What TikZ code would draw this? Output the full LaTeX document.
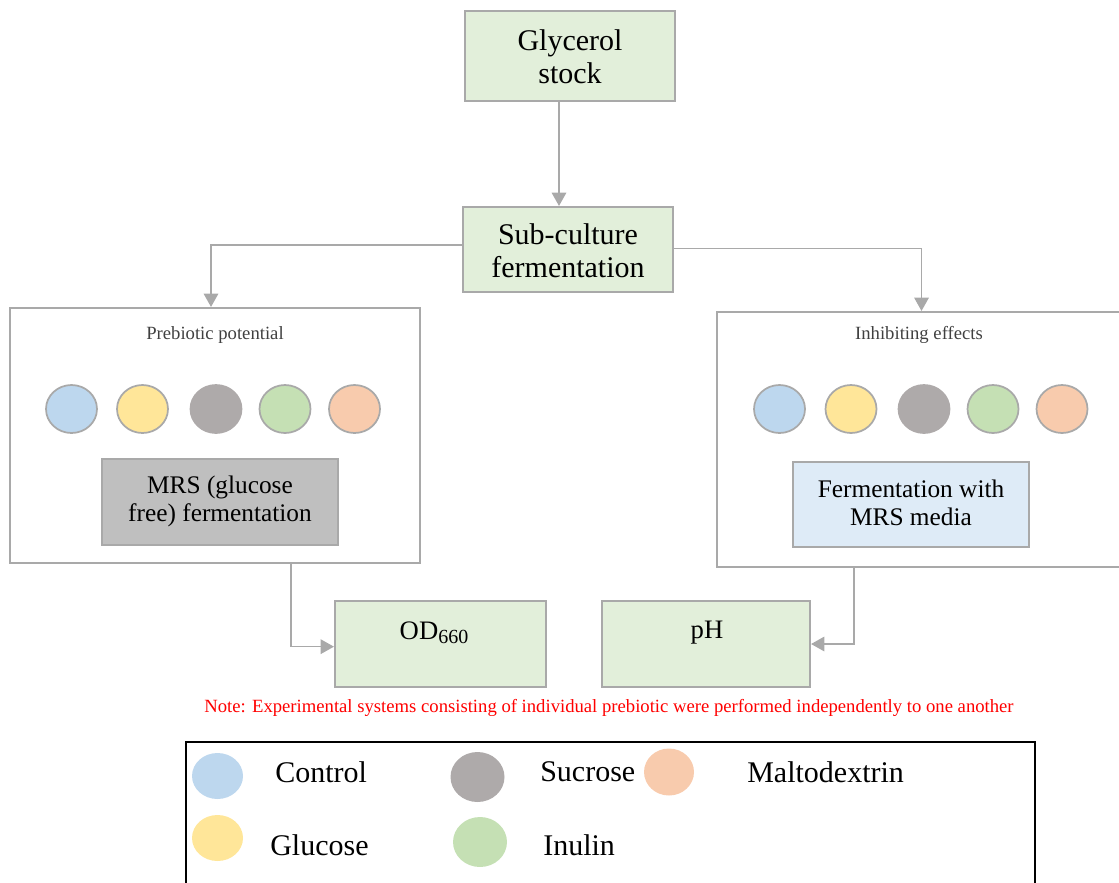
\documentclass[tikz,border=0pt]{standalone}
\usepackage{fontspec}
\setmainfont{Liberation Serif}
\usetikzlibrary{arrows.meta,shapes.geometric,fit}

\definecolor{lineg}{HTML}{A9A9A9}
\definecolor{boxgreen}{HTML}{E2EFDA}
\definecolor{boxgray}{HTML}{BFBFBF}
\definecolor{boxblue}{HTML}{DEEBF7}
\definecolor{cblue}{HTML}{BDD7EE}
\definecolor{cyellow}{HTML}{FFE699}
\definecolor{cgray}{HTML}{AEAAAA}
\definecolor{cgreen}{HTML}{C5E0B4}
\definecolor{corange}{HTML}{F8CBAD}
\definecolor{titlegray}{HTML}{404040}

\begin{document}
\begin{tikzpicture}[x=0.75pt,y=-0.75pt,
  box/.style={draw=lineg, line width=1.6pt, inner sep=0pt},
  greenbox/.style={box, fill=boxgreen},
  bigfont/.style={font=\fontsize{22.5}{24.5}\selectfont, align=center},
  midfont/.style={font=\fontsize{19}{21}\selectfont, align=center},
  paneltitle/.style={font=\fontsize{14}{16}\selectfont, text=titlegray},
  dot/.style={ellipse, draw=lineg, line width=1.3pt, minimum width=38.25pt, minimum height=36pt, inner sep=0pt},
  keydot/.style={ellipse, draw=none, inner sep=0pt},
  keytext/.style={font=\fontsize{22.5}{24}\selectfont, anchor=west, inner sep=0pt},
  conn/.style={draw=lineg, line width=0.9pt, -{Triangle[length=10pt,width=11pt]}}
]
\useasboundingbox (0,0) rectangle (1119,882);
\clip (0,0) rectangle (1119,882);

% main flow boxes
\node[greenbox, fit={(465,11) (675,101)}] (gs) {};
\node[bigfont] (gst) at (570,57) {Glycerol\\stock};
\node[greenbox, fit={(463,207) (673,292)}] (sc) {};
\node[bigfont] (sct) at (568,251) {Sub-culture\\fermentation};

% experiment panels
\node[box, fit={(10,308) (420,563)}] (lp) {};
\node[box, fit={(717,312) (1126,567)}] (rp) {};
\node[paneltitle] (lpt) at (215,335) {Prebiotic potential};
\node[paneltitle] (rpt) at (919,335) {Inhibiting effects};

% prebiotic samples in each panel
\foreach \x/\c/\b [count=\i] in {71.5/cblue/lineg, 142.5/cyellow/lineg, 216/cgray/cgray, 285/cgreen/lineg, 354.5/corange/lineg}
  \node[dot, fill=\c, draw=\b] (ls\i) at (\x,409) {};
\foreach \x/\c/\b [count=\i] in {779.5/cblue/lineg, 851/cyellow/lineg, 924/cgray/cgray, 993/cgreen/lineg, 1062/corange/lineg}
  \node[dot, fill=\c, draw=\b] (rs\i) at (\x,409) {};

\node[box, fill=boxgray, fit={(102,459) (338,545)}] (mrs) {};
\node[midfont] (mrst) at (220,501) {MRS (glucose\\free) fermentation};
\node[box, fill=boxblue, fit={(793,462) (1029,547)}] (fmrs) {};
\node[midfont] (fmrst) at (911,503) {Fermentation with\\MRS media};

% measurement boxes
\node[greenbox, fit={(335,601) (546,687)}] (od) {};
\node[greenbox, fit={(602,601) (810,687)}] (ph) {};
\node[font=\fontsize{20}{22}\selectfont] (odt) at (434,633) {OD\raisebox{-0.35ex}{\fontsize{15}{15}\selectfont 660}};
\node[font=\fontsize{20}{22}\selectfont] (pht) at (707,633) {pH};

% connectors
\coordinate (g0) at ([xshift=-8.25pt]gs.south);
\draw[conn] (g0) -- (g0 |- sc.north);
\coordinate (s0) at ([yshift=3.4pt]sc.west);
\draw[conn] (s0) -| ([xshift=-3pt]lp.north);
\coordinate (s1) at ([yshift=1pt]sc.east);
\draw[conn] (s1) -| (rp.north);
\coordinate (l0) at ([xshift=57pt]lp.south);
\draw[conn] (l0) |- ([yshift=-2pt]od.west);
\coordinate (r0) at ([xshift=-50.6pt]rp.south);
\draw[conn] (r0) |- (ph.east);

% note
\node[font=\fontsize{14}{16}\selectfont, text=red] (note) at (609,708)
  {Note: Experimental systems consisting of individual prebiotic were performed independently to one another};

% legend
\node[draw=black, line width=1.1pt, inner sep=0pt, fit={(186,742) (1035,900)}] (legend) {};
\node[keydot, fill=cblue, minimum width=38.25pt, minimum height=34.5pt] (kc) at (217.5,776) {};
\node[keydot, fill=cgray, minimum width=40.5pt, minimum height=37.5pt] (ks) at (477.5,777) {};
\node[keydot, fill=corange, minimum width=37.5pt, minimum height=35.25pt] (km) at (669,772) {};
\node[keydot, fill=cyellow, minimum width=38.25pt, minimum height=34.5pt] (kg) at (217.5,838) {};
\node[keydot, fill=cgreen, minimum width=40.5pt, minimum height=37.5pt] (ki) at (480,842) {};
\node[keytext] (tc) at (275,772) {Control};
\node[keytext] (ts) at (540,772) {Sucrose};
\node[keytext] (tm) at (747,772) {Maltodextrin};
\node[keytext] (tg) at (270,845) {Glucose};
\node[keytext] (ti) at (543,845) {Inulin};
\end{tikzpicture}
\end{document}
